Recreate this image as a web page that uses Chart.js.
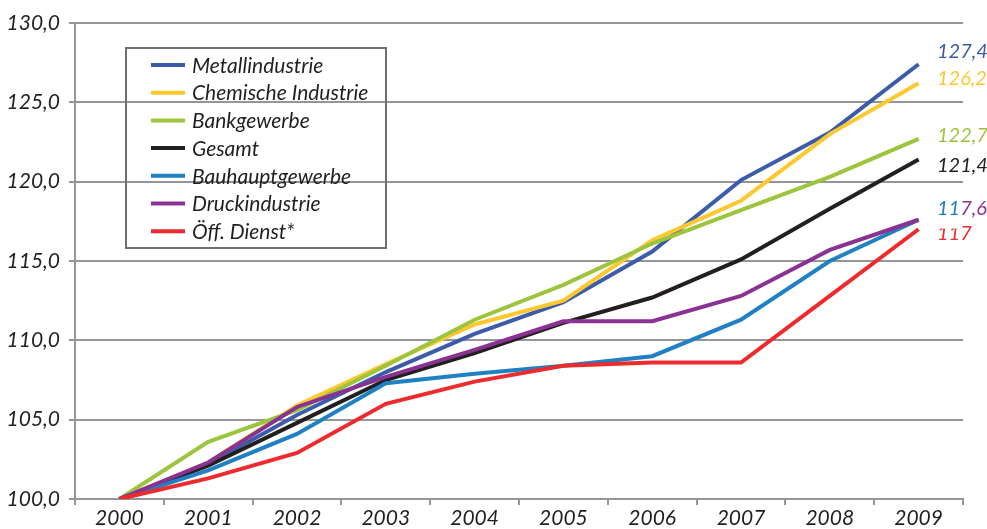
<!DOCTYPE html>
<html>
<head>
<meta charset="utf-8">
<script src="https://cdn.jsdelivr.net/npm/chart.js@4"></script>
<style>
  html, body { margin: 0; padding: 0; background: #fff; }
  #wrap { width: 987px; height: 529px; position: relative; }
</style>
</head>
<body>
<div id="wrap"><canvas id="chart"></canvas></div>
<script>
'use strict';

// ─── Data ─────────────────────────────────────────────
const years = ['2000', '2001', '2002', '2003', '2004', '2005', '2006', '2007', '2008', '2009'];

const seriesNames = [
  'Metallindustrie',
  'Chemische Industrie',
  'Bankgewerbe',
  'Gesamt',
  'Bauhauptgewerbe',
  'Druckindustrie',
  'Öff. Dienst*',
];

const metall   = [100, 102.2, 105.3, 108.0, 110.4, 112.4, 115.6, 120.1, 123.1, 127.4];
const chemie   = [100, 102.3, 105.9, 108.5, 111.0, 112.5, 116.3, 118.8, 123.0, 126.2];
const bank     = [100, 103.6, 105.6, 108.4, 111.3, 113.5, 116.1, 118.2, 120.3, 122.7];
const gesamt   = [100, 102.1, 104.8, 107.5, 109.2, 111.1, 112.7, 115.1, 118.3, 121.4];
const bau      = [100, 101.8, 104.1, 107.3, 107.9, 108.4, 109.0, 111.3, 115.0, 117.6];
const druck    = [100, 102.3, 105.8, 107.7, 109.4, 111.2, 111.2, 112.8, 115.7, 117.6];
const oeffDienst = [100, 101.3, 102.9, 106.0, 107.4, 108.4, 108.6, 108.6, 112.8, 117.0];

const seriesValues = [metall, chemie, bank, gesamt, bau, druck, oeffDienst];
const seriesColors = ['#3c5ba9', '#fdc82f', '#9dc43d', '#231f20', '#1f80c3', '#8a3293', '#ed2a2e'];

// vertical nudge (px) of the end labels so they do not collide
const endLabelShift = [-13, -5, -3.5, 6.5, -11, -11, 4];

const FONT = 'Lato, "Open Sans", sans-serif';
const TEXT = '#231f20';
const GRID = '#939598';

const fmtVal = v => Number.isInteger(v) ? String(v) : v.toFixed(1).replace('.', ',');

// ─── Plugins: legend box + end labels ────────────────
const legendBox = {
  id: 'legendBox',
  afterDraw(chart) {
    const ctx = chart.ctx;
    ctx.save();
    ctx.strokeStyle = '#6d6e71';
    ctx.lineWidth = 2;
    ctx.strokeRect(126, 48, 260, 200);
    ctx.font = `italic 21px ${FONT}`;
    ctx.textBaseline = 'middle';
    ctx.textAlign = 'left';
    seriesNames.forEach((name, i) => {
      const y = 65 + i * 27.7;
      ctx.strokeStyle = seriesColors[i];
      ctx.lineWidth = 4;
      ctx.beginPath();
      ctx.moveTo(151, y);
      ctx.lineTo(185, y);
      ctx.stroke();
      ctx.fillStyle = TEXT;
      ctx.fillText(name, 192, y + 1);
    });
    ctx.restore();
  },
};

const endLabels = {
  id: 'endLabels',
  afterDatasetsDraw(chart) {
    const ctx = chart.ctx;
    const ys = chart.scales.y;
    const x0 = 937;
    ctx.save();
    ctx.font = `italic 20px ${FONT}`;
    ctx.textBaseline = 'middle';
    ctx.textAlign = 'left';
    // draw from the last series back so the Bau label can overprint Druck's
    for (let i = seriesValues.length - 1; i >= 0; i--) {
      const vals = seriesValues[i];
      const last = vals[vals.length - 1];
      const txt  = fmtVal(last);
      const y    = ys.getPixelForValue(last) + endLabelShift[i];
      ctx.save();
      if (seriesNames[i] === 'Bauhauptgewerbe') {
        // shared label with Druckindustrie: only the first two digits in blue
        const w = ctx.measureText(txt.slice(0, 2)).width;
        ctx.beginPath();
        ctx.rect(x0 - 2, y - 20, w + 2, 40);
        ctx.clip();
        ctx.fillStyle = '#fff';
        ctx.fillRect(x0 - 2, y - 20, w + 2, 40);
      }
      ctx.fillStyle = seriesColors[i];
      ctx.fillText(txt, x0, y);
      ctx.restore();
    }
    ctx.restore();
  },
};

// ─── Chart ───────────────────────────────────────────
new Chart(document.getElementById('chart').getContext('2d'), {
  type: 'line',
  data: {
    labels: years,
    datasets: seriesNames.map((name, i) => ({
      label: name,
      data: seriesValues[i],
      borderColor: seriesColors[i],
      backgroundColor: seriesColors[i],
      borderWidth: 4,
      pointRadius: 0,
      tension: 0,
      fill: false,
      order: seriesNames.length - i,
    })),
  },
  options: {
    responsive: true,
    maintainAspectRatio: false,
    animation: false,
    layout: { padding: { top: 23, right: 24, left: 0, bottom: 0 } },
    plugins: {
      legend: { display: false },
      tooltip: { enabled: false },
    },
    scales: {
      x: {
        offset: true,
        grid: { display: true, drawOnChartArea: false, offset: true, color: GRID, lineWidth: 2, tickLength: 6 },
        border: { display: true, color: GRID, width: 2 },
        ticks: { color: TEXT, font: { family: FONT, size: 21, style: 'italic' }, padding: 1, maxRotation: 0 },
        afterFit: s => { s.height = 30; },
      },
      y: {
        min: 100,
        max: 130,
        grid: { color: GRID, lineWidth: 2, tickLength: 6 },
        border: { display: true, color: GRID, width: 2 },
        ticks: {
          stepSize: 5,
          color: TEXT,
          padding: 9,
          font: { family: FONT, size: 21, style: 'italic' },
          callback: v => v.toFixed(1).replace('.', ','),
        },
        afterFit: s => { s.width = 75; },
      },
    },
  },
  plugins: [legendBox, endLabels],
});
</script>
</body>
</html>
